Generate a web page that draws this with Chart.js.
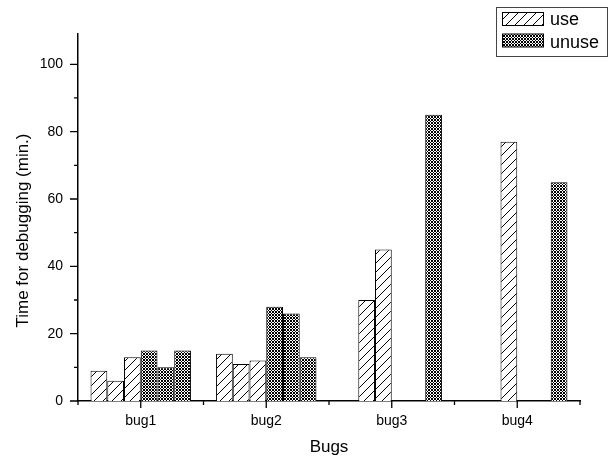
<!DOCTYPE html>
<html>
<head>
<meta charset="utf-8">
<script src="https://cdn.jsdelivr.net/npm/chart.js@4/dist/chart.umd.min.js"></script>
<style>
  html, body { margin: 0; padding: 0; background: #fff; }
  canvas { display: block; }
</style>
</head>
<body>
<canvas id="myChart" width="609" height="459"></canvas>
<script>
// data
const categories = ['bug1', 'bug2', 'bug3', 'bug4'];
const use1 = [9, 14, null, null];
const use2 = [6, 11, 30, null];
const use3 = [13, 12, 45, 77];
const unuse1 = [15, 28, null, null];
const unuse2 = [10, 26, null, null];
const unuse3 = [15, 13, 85, 65];
const yMajorTicks = [0, 20, 40, 60, 80, 100];
const yMinorTicks = [10, 30, 50, 70, 90];
const legendNames = ['use', 'unuse'];

const FONT = '"Liberation Sans", Arial, sans-serif';

// hatch "/" pattern, crisp 1px staircase
function makeHatch() {
    let n = 9;
    let c = document.createElement('canvas');
    c.width = n; c.height = n;
    let g = c.getContext('2d');
    g.fillStyle = '#fff';
    g.fillRect(0, 0, n, n);
    g.fillStyle = '#000';
    for (let i = 0; i < n; i++) {
        g.fillRect(i, n - 1 - i, 1, 1);
    }
    return document.createElement('canvas').getContext('2d').createPattern(c, 'repeat');
}

// dense cross pattern
function makeCross() {
    let c = document.createElement('canvas');
    c.width = 3; c.height = 3;
    let g = c.getContext('2d');
    g.fillStyle = '#fff';
    g.fillRect(0, 0, 3, 3);
    g.fillStyle = '#000';
    for (let px = 0; px < 3; px++) {
        for (let py = 0; py < 3; py++) {
            if ((px + py) % 2 == 0) g.fillRect(px, py, 1, 1);
        }
    }
    return document.createElement('canvas').getContext('2d').createPattern(c, 'repeat');
}

let hatch = makeHatch();
let cross = makeCross();

function ds(values, pattern) {
    return {
        data: values,
        backgroundColor: pattern,
        borderColor: '#000',
        borderWidth: 1,
        barPercentage: 1,
        categoryPercentage: 0.8
    };
}

// ticks, y title and boxed legend
const extras = {
    id: 'extras',
    afterDraw(chart) {
        const ctx = chart.ctx;
        const x = chart.scales.x;
        const y = chart.scales.y;
        const area = chart.chartArea;
        ctx.save();
        ctx.strokeStyle = '#000';
        ctx.lineWidth = 1.3;
        ctx.beginPath();
        for (let i = 0; i < categories.length; i++) {
            let px = x.getPixelForValue(i);
            ctx.moveTo(px, area.bottom); ctx.lineTo(px, area.bottom + 7);
        }
        for (let i = 0; i <= categories.length; i++) {
            let px = x.getPixelForValue(i - 0.5);
            ctx.moveTo(px, area.bottom); ctx.lineTo(px, area.bottom + 4);
        }
        yMajorTicks.forEach(v => {
            let py = y.getPixelForValue(v);
            ctx.moveTo(area.left, py); ctx.lineTo(area.left - 8, py);
        });
        yMinorTicks.forEach(v => {
            let py = y.getPixelForValue(v);
            ctx.moveTo(area.left, py); ctx.lineTo(area.left - 4, py);
        });
        ctx.stroke();

        // y title
        ctx.fillStyle = '#000';
        ctx.font = '17px ' + FONT;
        ctx.textAlign = 'center';
        ctx.textBaseline = 'middle';
        ctx.translate(23, (area.top + area.bottom) / 2 + 13);
        ctx.rotate(-Math.PI / 2);
        ctx.fillText('Time for debugging (min.)', 0, 0);
        ctx.restore();

        // legend
        ctx.save();
        ctx.strokeStyle = '#444';
        ctx.lineWidth = 1;
        ctx.fillStyle = '#fff';
        ctx.fillRect(496.5, 7.5, 111, 49);
        ctx.strokeRect(496.5, 7.5, 111, 49);
        let pats = [hatch, cross];
        legendNames.forEach((name, i) => {
            let top = 12.5 + i * 21.5;
            ctx.fillStyle = pats[i];
            ctx.fillRect(502.5, top, 41, 13);
            ctx.strokeStyle = '#000';
            ctx.strokeRect(502.5, top, 41, 13);
            ctx.fillStyle = '#000';
            ctx.font = '18px ' + FONT;
            ctx.textAlign = 'left';
            ctx.textBaseline = 'middle';
            ctx.fillText(name, 550, 20 + i * 23.5);
        });
        ctx.restore();
    }
};

let ctx = document.getElementById('myChart').getContext('2d');
let chart = new Chart(ctx, {
    type: 'bar',
    data: {
        labels: categories,
        datasets: [
            ds(use1, hatch), ds(use2, hatch), ds(use3, hatch),
            ds(unuse1, cross), ds(unuse2, cross), ds(unuse3, cross)
        ]
    },
    options: {
        responsive: false,
        animation: false,
        devicePixelRatio: 1,
        layout: { padding: { top: 34, right: 29, left: 0, bottom: 0 } },
        plugins: { legend: { display: false }, tooltip: { enabled: false } },
        scales: {
            x: {
                grid: { display: false, drawTicks: false },
                border: { display: true, color: '#000', width: 1.5 },
                ticks: { color: '#000', font: { family: FONT, size: 14 }, padding: 12 },
                title: { display: true, text: 'Bugs', color: '#000', font: { family: FONT, size: 17 }, padding: { top: 0, bottom: 1 } },
                afterFit(s) { s.height = 58; }
            },
            y: {
                min: 0,
                max: 109,
                grid: { display: false, drawTicks: false },
                border: { display: true, color: '#000', width: 1.5 },
                ticks: { stepSize: 20, includeBounds: false, color: '#000', font: { family: FONT, size: 14 }, padding: 15 },
                afterFit(s) { s.width = 78; }
            }
        }
    },
    plugins: [extras]
});
</script>
</body>
</html>
